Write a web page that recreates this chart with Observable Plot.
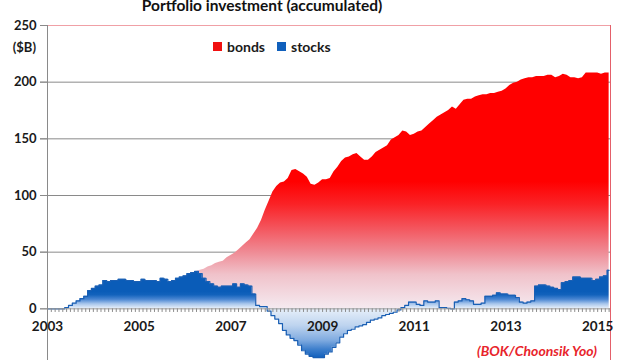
<!DOCTYPE html>
<html><head><meta charset="utf-8">
<script src="https://cdn.jsdelivr.net/npm/d3@7"></script>
<script src="https://cdn.jsdelivr.net/npm/@observablehq/plot@0.6"></script>
<style>
html,body{margin:0;padding:0;background:#fff;overflow:hidden;width:640px;height:360px;}
#wrap{position:relative;width:640px;height:360px;overflow:hidden;font-family:Lato,"Open Sans",sans-serif;color:#1a1a1a;}
#chart{position:absolute;left:0;top:0;}
#title{position:absolute;left:0;width:524px;top:-4px;text-align:center;font-weight:bold;font-size:15.5px;line-height:18px;color:#111;}
#unit{position:absolute;left:0;width:36px;top:39px;text-align:right;font-weight:bold;font-size:13px;line-height:16px;}
#legend{position:absolute;left:213px;top:38px;display:flex;align-items:center;font-size:14px;font-weight:bold;color:#1a1a1a;}
#legend .sw{display:inline-block;width:9px;height:9px;margin-right:5px;}
#legend .item{display:flex;align-items:center;margin-right:12px;}
#caption{position:absolute;right:43px;top:342px;font-weight:bold;font-style:italic;font-size:14px;color:#e8242c;}
</style></head>
<body><div id="wrap">
<div id="chart"></div>
<div id="title"></div>
<div id="unit"></div>
<div id="legend"></div>
<div id="caption"></div>
</div>
<script>
// ---- data (monthly, Jan 2003 .. Apr 2015), $B accumulated ----
const startYear = 2003;
const yearTicks = [2003, 2005, 2007, 2009, 2011, 2013, 2015];
const yTicks = [-50, 0, 50, 100, 150, 200, 250];
const gridTicks = [50, 100, 150, 200];
const seriesNames = ["bonds", "stocks"];
const titleText = "Portfolio investment (accumulated)";
const unitText = "($B)";
const captionText = "(BOK/Choonsik Yoo)";

const bonds = [
  0,0,0,0,0,0.5,1,2,3,4,5,6,
  7,8,9,10,11,12,13,14,15,16,17,18,
  18,19,20,20,21,22,22,23,23,24,25,26,
  27,28,30,33,34,35,37,38,40,41,42,45,
  47,49,52,55,58,61,66,71,78,87,95,103,
  108,111,112,115,122,123,121,119,116,110,109,111,
  114,114,115,121,125,130,133,134,136,137,134,131,
  131,134,138,140,142,144,149,151,153,157,156,153,
  154,156,157,160,163,166,169,171,173,175,178,176,
  180,184,185,185,187,188,189,189,190,190,191,192,
  194,197,199,200,202,203,204,204,205,205,205,206,
  206,204,205,207,206,204,204,203,204,208,208,208,
  208,207,208,208
];
const stocks = [
  0,0,0,0,0,1,3,5,7,9,11,16,
  18,20,21,25,24,25,25,26,26,25,25,24,
  24,26,25,25,25,24,27,26,24,25,27,28,
  29,31,32,33,31,27,24,22,20,19,20,20,
  20,22,19,22,21,20,13,3,2,2,-2,-6,
  -9,-13,-19,-23,-26,-28,-32,-37,-40,-42,-43,-43,
  -43,-40,-38,-34,-30,-25,-22,-19,-18,-16,-15,-14,
  -12,-10,-9,-8,-6,-5,-4,-3,-1,1,3,6,
  6,4,3,7,6,6,7,1,1,0.5,0,6,
  7,9,8,7,4,4,5,11,11,12,14,13,
  13,12,12,10,6,5,6,7,20,21,21,20,
  19,18,17,23,24,25,28,28,27,27,27,25,
  26,28,29,34
];

const rows = bonds.map((b, i) => ({t: startYear + i / 12, bonds: b, stocks: stocks[i]}));
const xMax = 2015.28;

// ---- style ----
const bondColor = "#f01010";
const stockColor = "#1060bc";
const bondStops = [[112, "#ff0000"], [92, "#fa2226"], [72, "#f4525a"], [50, "#ef8a94"], [30, "#f0c2ca"], [0, "#f5eaf0"]];
const stockStops = [[15, "#0a5cb8"], [12, "#1262bc"], [8, "#4a86d2"], [4, "#a8c6ec"], [0, "#e8f0fa"], [-15, "#bed4ef"], [-28, "#80abe0"], [-36, "#3e7fcc"], [-44, "#0e5ebc"]];

function gradients(index, scales) {
  const y = scales.y;
  const ns = "http://www.w3.org/2000/svg";
  const defs = document.createElementNS(ns, "defs");
  function grad(id, stops) {
    const g = document.createElementNS(ns, "linearGradient");
    g.setAttribute("id", id);
    g.setAttribute("gradientUnits", "userSpaceOnUse");
    const y1 = y(stops[0][0]), y2 = y(stops[stops.length - 1][0]);
    g.setAttribute("x1", 0); g.setAttribute("x2", 0);
    g.setAttribute("y1", y1); g.setAttribute("y2", y2);
    for (const [v, c] of stops) {
      const s = document.createElementNS(ns, "stop");
      s.setAttribute("offset", (y(v) - y1) / (y2 - y1));
      s.setAttribute("stop-color", c);
      g.appendChild(s);
    }
    defs.appendChild(g);
  }
  grad("bondsGrad", bondStops);
  grad("stocksGrad", stockStops);
  return defs;
}

const plot = Plot.plot({
  width: 640,
  height: 380,
  marginLeft: 47,
  marginRight: 30,
  marginTop: 25,
  marginBottom: 15,
  style: {fontFamily: "Lato, 'Open Sans', sans-serif", background: "transparent", color: "#1a1a1a"},
  x: {domain: [startYear, xMax], axis: null},
  y: {domain: [-50, 250], axis: null},
  marks: [
    gradients,
    Plot.gridY(gridTicks, {stroke: "#8a8a8a", strokeOpacity: 1, insetLeft: -7}),
    Plot.ruleY([250], {stroke: "#f0a0a6", insetLeft: -7}),
    Plot.areaY(rows, {x: "t", y: "bonds", fill: "url(#bondsGrad)"}),
    Plot.areaY(rows, {x: "t", y: "stocks", fill: "url(#stocksGrad)", curve: "step"}),
    Plot.line(rows, {x: "t", y: "stocks", stroke: "#1a5fb4", strokeWidth: 1.2, curve: "step"}),
    Plot.ruleY([0], {stroke: "#9a9a9a", insetLeft: -7}),
    Plot.ruleX(rows, {x: "t", y1: 0, y2: -3.2, stroke: "#8c8c8c", strokeWidth: 1}),
    Plot.ruleX([startYear], {stroke: "#8a8a8a"}),
    Plot.ruleX([xMax], {stroke: "#e4606a"}),
    Plot.axisY({ticks: yTicks, tickSize: 7, tickPadding: 4, stroke: "#8a8a8a", fill: "#1a1a1a", fontSize: 13, fontWeight: "bold", label: null}),
    Plot.text(yearTicks, {x: d => d, y: 0, dy: 18, text: d => String(d), fontSize: 13.5, fontWeight: "bold", fill: "#1a1a1a"})
  ]
});
document.getElementById("chart").appendChild(plot);

document.getElementById("title").textContent = titleText;
document.getElementById("unit").textContent = unitText;
document.getElementById("caption").textContent = captionText;
const legend = document.getElementById("legend");
const legendColors = [bondColor, stockColor];
seriesNames.forEach((name, i) => {
  const item = document.createElement("span");
  item.className = "item";
  const sw = document.createElement("span");
  sw.className = "sw";
  sw.style.background = legendColors[i];
  item.appendChild(sw);
  item.appendChild(document.createTextNode(name));
  legend.appendChild(item);
});
</script>
</body></html>
